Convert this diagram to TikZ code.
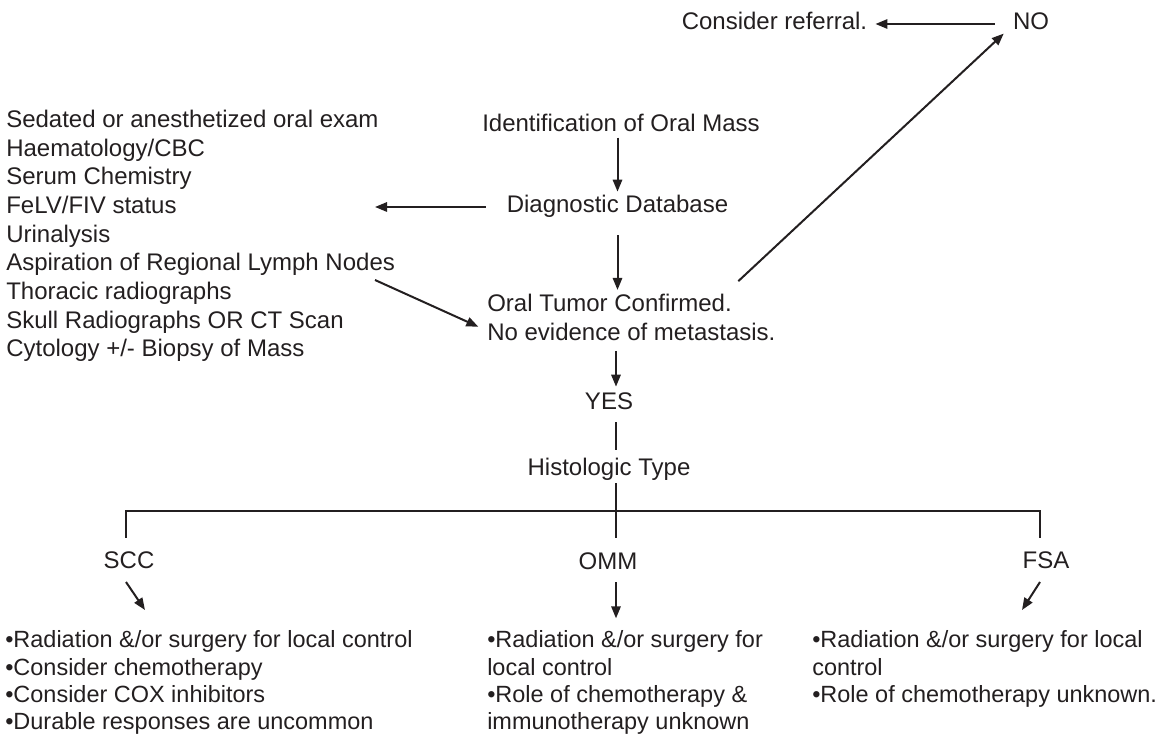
\documentclass[tikz,border=0pt]{standalone}
\usepackage{fontspec}
\setmainfont{Liberation Sans}
\usepackage{tikz}
\usetikzlibrary{arrows.meta,positioning}
\definecolor{flowink}{RGB}{35,31,32}

\begin{document}
\begin{tikzpicture}[x=0.75pt,y=-0.75pt,
  font=\fontsize{18}{21.5}\selectfont,text=flowink,
  >={Triangle[length=9pt,width=7pt]},
  lbl/.style={inner sep=0pt,text height=13pt,text depth=4pt},
  blk/.style={inner sep=0pt,anchor=north west,align=left},
  notes/.style={blk,font=\fontsize{17.6}{20.4}\selectfont},
  arr/.style={->,draw=flowink,line width=1.5pt},
  rule/.style={draw=flowink,line width=1.1pt}]
  \useasboundingbox (0,0) rectangle (1168,741);

  \node[lbl] (referral) at (774.5,24) {Consider referral.};
  \node[lbl] (no) at (1031,24) {NO};

  \node[lbl] (ident) at (621,126) {Identification of Oral Mass};
  \node[lbl] (diag) at (617.5,207) {Diagnostic Database};
  \node[blk] (tests) at (6,107.2) {\strut Sedated or anesthetized oral exam\\
    Haematology/CBC\\
    Serum Chemistry\\
    FeLV/FIV status\\
    Urinalysis\\
    Aspiration of Regional Lymph Nodes\\
    Thoracic radiographs\\
    Skull Radiographs OR CT Scan\\
    Cytology +/- Biopsy of Mass};
  \node[blk,font=\fontsize{18}{21.3}\selectfont] (tumor) at (487,291.8)
    {\strut Oral Tumor Confirmed.\\No evidence of metastasis.};

  \node[lbl] (yes) at (609,404) {YES};
  \node[lbl] (hist) at (609,470) {Histologic Type};

  \node[lbl] (scc) at (129,562) {SCC};
  \node[lbl] (omm) at (608,563) {OMM};
  \node[lbl] (fsa) at (1046,562) {FSA};

  \node[notes] (sccnotes) at (5,628.5) {\strut\textbullet Radiation \&/or surgery for local control\\
    \textbullet Consider chemotherapy\\
    \textbullet Consider COX inhibitors\\
    \textbullet Durable responses are uncommon};
  \node[notes] (ommnotes) at (487,628.5) {\strut\textbullet Radiation \&/or surgery for\\
    local control\\
    \textbullet Role of chemotherapy \&\\
    immunotherapy unknown};
  \node[notes] (fsanotes) at (812,628.5) {\strut\textbullet Radiation \&/or surgery for local\\
    control\\
    \textbullet Role of chemotherapy unknown.};

  \coordinate (fork) at (616,511);
  \coordinate (lymph) at (375,280);
  \coordinate (scctip) at (145,610);
  \coordinate (fsatip) at (1022,610);

  \draw[arr,shorten <=13.5pt,shorten >=6pt] (no.west) -- (referral.east);
  \draw[arr] ([xshift=-28pt,yshift=8pt]tumor.north east) -- ([xshift=-6.75pt,yshift=1.5pt]no.south west);

  \draw[arr,shorten >=2.8pt] (diag.north |- ident.south) -- (diag.north);
  \draw[arr,shorten <=15.6pt] (diag.west) -- (diag.west -| lymph);
  \draw[arr,shorten <=12.5pt,shorten >=1.4pt] (diag.south) -- (diag.south |- tumor.north);
  \draw[arr] (lymph) -- ([xshift=-6.5pt,yshift=-26.2pt]tumor.north west);

  \draw[arr,shorten <=7.5pt,shorten >=4.3pt] (fork |- tumor.south) -- (fork |- yes.north);
  \draw[rule,shorten <=5pt,shorten >=6.5pt] (fork |- yes.south) -- (fork |- hist.north);
  \draw[rule,shorten <=1.3pt,shorten >=10.3pt] (fork |- hist.south) -- (fork |- omm.north);
  \draw[rule,shorten >=9.5pt] (fork) -| ([xshift=-2.25pt]scc.north);
  \draw[rule,shorten >=9.5pt] (fork) -| ([xshift=-4.5pt]fsa.north);

  \draw[arr] ([xshift=-2.25pt,yshift=-6.3pt]scc.south) -- (scctip);
  \draw[arr,shorten <=5.8pt,shorten >=7.6pt] (fork |- omm.south) -- (fork |- ommnotes.north);
  \draw[arr] ([xshift=-4.5pt,yshift=-6.3pt]fsa.south) -- (fsatip);
\end{tikzpicture}
\end{document}
